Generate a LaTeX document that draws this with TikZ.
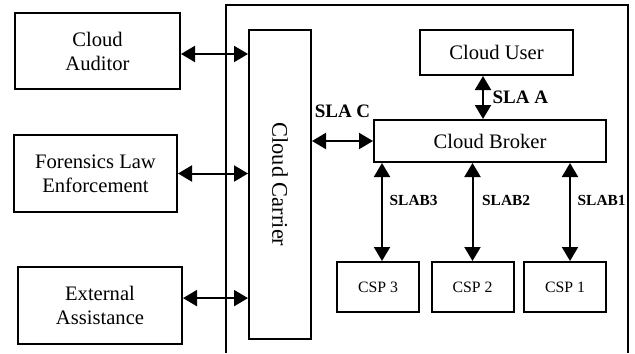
\documentclass[tikz,border=0pt]{standalone}
\usepackage{fontspec}
\setmainfont{Liberation Serif}
\usetikzlibrary{arrows.meta}

\begin{document}
\begin{tikzpicture}[x=0.5pt, y=-0.5pt,
  box/.style={draw, line width=1pt, align=center, inner sep=0pt, font=\fontsize{10.3}{12}\selectfont},
  cspbox/.style={draw, line width=1pt, minimum width=41pt, minimum height=25pt, inner sep=0pt, font=\fontsize{7.9}{9}\selectfont},
  link/.style={{Triangle[length=7pt,width=8pt]}-{Triangle[length=7pt,width=8pt]}, line width=1pt},
  sla/.style={font=\bfseries\fontsize{9.5}{11}\selectfont},
  slab/.style={font=\bfseries\fontsize{7.7}{9}\selectfont}]
\useasboundingbox (0,0) rectangle (635,353);

% outer frame, open at the bottom
\draw[line width=1pt] (226,353) -- (226,5) -- (628,5) -- (628,353);

% left column
\node[box, minimum width=82.5pt, minimum height=38pt] (auditor) at (97.5,51) {Cloud\\Auditor};
\node[box, minimum width=81.5pt, minimum height=38.5pt] (forensics) at (95.5,173.5) {Forensics Law\\Enforcement};
\node[box, minimum width=82pt, minimum height=38.5pt] (external) at (100,305.5) {External\\Assistance};

\node[box, minimum width=31pt, minimum height=154.5pt] (carrier) at (280,184.5) {};
\node[rotate=-90, font=\fontsize{11.2}{13}\selectfont] at (carrier.center) {Cloud Carrier};

% right side
\node[box, minimum width=76.5pt, minimum height=22.5pt] (user) at (496.5,52.5) {Cloud User};
\node[box, minimum width=116pt, minimum height=21pt] (broker) at (490,141) {Cloud Broker};

\node[cspbox] (csp3) at (378,287) {CSP 3};
\node[cspbox] (csp2) at (472.5,287) {CSP 2};
\node[cspbox] (csp1) at (565,287) {CSP 1};

% links
\draw[link] ([yshift=-1.5pt]auditor.east) -- ([yshift=-1.5pt]auditor.east -| carrier.west);
\draw[link] (forensics.east) -- (forensics.east -| carrier.west);
\draw[link] ([yshift=3.7pt]external.east) -- ([yshift=3.7pt]external.east -| carrier.west);

\draw[link] (carrier.east |- broker.west) -- (broker.west) node[sla, midway, above=8pt] {SLA C};
\draw[link] ([xshift=-6.75pt]user.south) -- ([xshift=-6.75pt]user.south |- broker.north)
  node[sla, midway, right=1pt] {SLA A};

\draw[link] ([xshift=2pt]csp3.north |- broker.south) -- ([xshift=2pt]csp3.north) node[slab, pos=0.38, right] {SLAB3};
\draw[link] (csp2.north |- broker.south) -- (csp2.north) node[slab, pos=0.38, right=1pt] {SLAB2};
\draw[link] ([xshift=2.5pt]csp1.north |- broker.south) -- ([xshift=2.5pt]csp1.north) node[slab, pos=0.38, right=0pt] {SLAB1};
\end{tikzpicture}
\end{document}
